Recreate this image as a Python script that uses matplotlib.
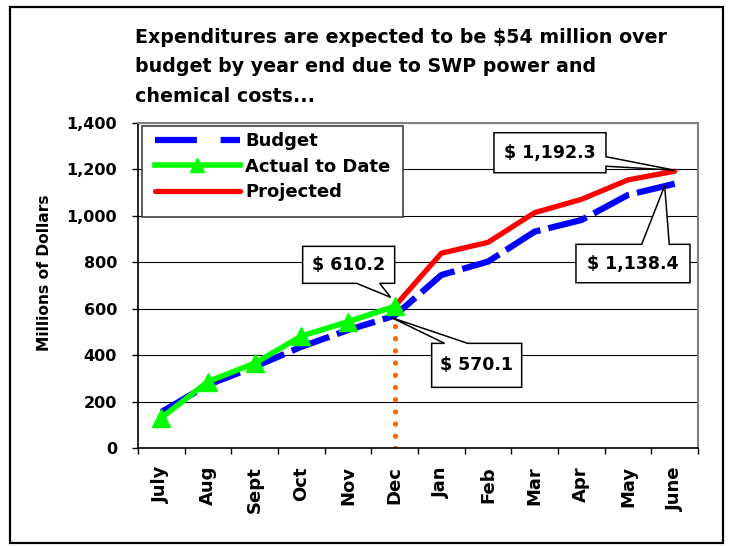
import matplotlib
matplotlib.use("Agg")
import matplotlib.pyplot as plt
from matplotlib.lines import Line2D
from matplotlib.patches import Polygon, Rectangle
from matplotlib.transforms import IdentityTransform

# ---------------- data ----------------
months = ["July", "Aug", "Sept", "Oct", "Nov", "Dec",
          "Jan", "Feb", "Mar", "Apr", "May", "June"]
budget = [155, 272, 350, 436, 508, 570.1, 745, 803, 932, 982, 1090, 1138.4]
actual = [130, 286, 365, 482, 544, 610.2]
projected_months = ["Dec", "Jan", "Feb", "Mar", "Apr", "May", "June"]
projected = [610.2, 839, 886, 1014, 1071, 1155, 1192.3]
yticks = [0, 200, 400, 600, 800, 1000, 1200, 1400]
title_lines = ["Expenditures are expected to be \\$54 million over",
               "budget by year end due to SWP power and",
               "chemical costs..."]
callout_text = ["\\$ 610.2", "\\$ 570.1", "\\$ 1,192.3", "\\$ 1,138.4"]
legend_labels = ["Budget", "Actual to Date", "Projected"]

W, H = 732, 546
fig = plt.figure(figsize=(W / 100, H / 100), dpi=100)
fig.patch.set_facecolor("white")

AX_L, AX_T, AX_R, AX_B = 138, 123, 698, 448


def px(x0, y0, x1, y1):
    """image-pixel box (y down) -> figure fraction [l, b, w, h]"""
    return [x0 / W, 1 - y1 / H, (x1 - x0) / W, (y1 - y0) / H]


def axfrac(ix, iy):
    return ((ix - AX_L) / (AX_R - AX_L), (AX_B - iy) / (AX_B - AX_T))


ax = fig.add_axes(px(AX_L, AX_T, AX_R, AX_B))

xi = list(range(len(months)))
idx = {m: i for i, m in enumerate(months)}
px_proj = [idx[m] for m in projected_months]
ax_act = xi[:len(actual)]

BLUE, GREEN, RED, ORANGE = "#0000FF", "#00FF00", "#FF0000", "#FF6600"

# orange dotted marker line at Dec, up to the budget value
dec = idx["Dec"]
ax.plot([dec, dec], [0, budget[dec]], color=ORANGE, lw=3.8,
        linestyle=(0, (0.01, 2.3)), dash_capstyle="round", zorder=2)

ax.plot(xi, budget, color=BLUE, lw=4.5, linestyle=(0, (6.4, 1.3)), zorder=3)
ax.plot(px_proj, projected, color=RED, lw=3.8, zorder=4,
        solid_capstyle="round")
ax.plot(ax_act, actual, color=GREEN, lw=4, marker="^", markersize=12.5,
        markerfacecolor=GREEN, markeredgecolor=GREEN, zorder=5)

ax.set_xlim(-0.5, len(months) - 0.5)
ax.set_ylim(0, 1400)
ax.set_yticks(yticks)
ax.set_yticklabels([f"{v:,}" for v in yticks])
ax.set_xticks(xi)
ax.set_xticklabels(months, rotation=90, va="top")
ax.set_xticks([i - 0.5 for i in range(len(months) + 1)], minor=True)

ax.tick_params(axis="x", which="major", length=0, pad=13)
ax.tick_params(axis="x", which="minor", length=4, width=1, direction="out")
ax.tick_params(axis="y", length=4, width=1, direction="out", pad=11)
for lab in ax.get_yticklabels():
    lab.set_fontsize(11.5)
    lab.set_fontweight("bold")
for lab in ax.get_xticklabels():
    lab.set_fontsize(13)
    lab.set_fontweight("bold")

ax.yaxis.grid(True, color="black", lw=0.8)
ax.set_axisbelow(True)
for s in ("top", "right"):
    ax.spines[s].set_color("#808080")
    ax.spines[s].set_linewidth(1.5)
for s in ("left", "bottom"):
    ax.spines[s].set_color("black")
    ax.spines[s].set_linewidth(1.2)

ax.set_ylabel("Millions of Dollars", fontsize=11.2, fontweight="bold")
ax.yaxis.set_label_coords(-0.1536, 0.54)

# legend frame (drawn separately, Excel-like extra bottom space)
lx0, ly0 = axfrac(141.7, 216.7)
lx1, ly1 = axfrac(403, 126)
ax.add_patch(Rectangle((lx0, ly0), lx1 - lx0, ly1 - ly0,
                       transform=ax.transAxes, facecolor="white",
                       edgecolor="#404040", lw=1.2, zorder=9))
handles = [
    Line2D([], [], color=BLUE, lw=4.5, linestyle=(0, (6.7, 3.8))),
    Line2D([], [], color=GREEN, lw=4, marker="^", markersize=10),
    Line2D([], [], color=RED, lw=3.8, solid_capstyle="round"),
]
leg = ax.legend(handles, legend_labels,
                loc="upper left", bbox_to_anchor=axfrac(155, 132.5),
                borderaxespad=0, frameon=False, borderpad=0,
                prop={"weight": "bold", "size": 13}, handlelength=4.7,
                handletextpad=0.3, labelspacing=0.4)
leg.set_zorder(10)

# title
for line, base in zip(title_lines, [42.7, 72.3, 101.8]):
    fig.text(135 / W, 1 - base / H, line, fontsize=13.7, fontweight="bold",
             ha="left", va="baseline")

# figure border
fig.add_artist(Rectangle((10 / W, 1 - 543 / H), 713 / W, 536 / H,
                         transform=fig.transFigure, fill=False,
                         edgecolor="black", lw=1.6))

# callouts: (x, y, box rel, wedge edge, wedge base rel, tip rel)
fig.canvas.draw()
callouts = [
    (dec, actual[dec], (-92, -60, 0, -23), "bottom", (-38, -15), (-4, -9)),
    (dec, budget[dec], (37, 27.7, 127, 71.7), "top", (50, 73), (-3, 2)),
    (idx["June"], projected[-1], (-180.7, -38.5, -68.7, 1.5), "right",
     (-14.5, -5), (0, -1)),
    (idx["June"], budget[-1], (-98.7, 60.6, 15.3, 99), "top", (-33, -5.4),
     (-10, 2)),
]
for (cx, cy, box, edge, base, tip), txt in zip(callouts, callout_text):
    tx, ty = ax.transData.transform((cx, cy))
    ix, iy = tx, H - ty  # image coordinates
    x0, y0, x1, y1 = ix + box[0], iy + box[1], ix + box[2], iy + box[3]
    px_tip = (ix + tip[0], iy + tip[1])
    if edge == "bottom":
        pts = [(x0, y0), (x1, y0), (x1, y1), (ix + base[1], y1), px_tip,
               (ix + base[0], y1), (x0, y1)]
    elif edge == "top":
        pts = [(x0, y0), (ix + base[0], y0), px_tip, (ix + base[1], y0),
               (x1, y0), (x1, y1), (x0, y1)]
    else:  # right
        pts = [(x0, y0), (x1, y0), (x1, iy + base[0]), px_tip,
               (x1, iy + base[1]), (x1, y1), (x0, y1)]
    disp = [(p[0], H - p[1]) for p in pts]
    fig.add_artist(Polygon(disp, closed=True, transform=IdentityTransform(),
                           facecolor="white", edgecolor="black", lw=1.1,
                           zorder=20))
    fig.text(((x0 + x1) / 2) / W, 1 - ((y0 + y1) / 2) / H, txt,
             fontsize=12.5, fontweight="bold", ha="center", va="center",
             zorder=21)

fig.savefig("out.png", dpi=100)
